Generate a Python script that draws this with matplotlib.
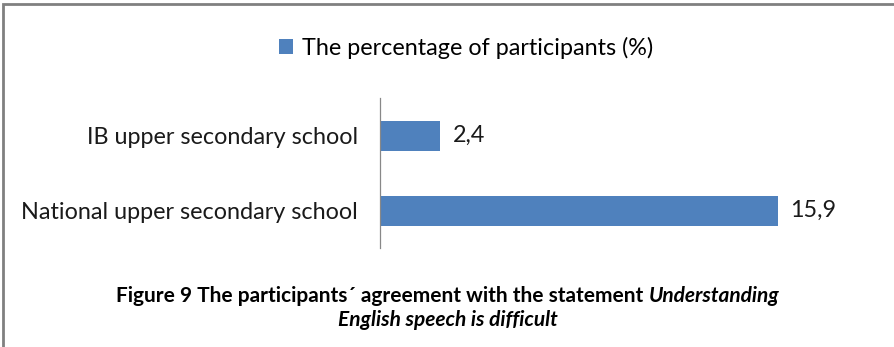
import matplotlib
matplotlib.use("Agg")
import matplotlib.pyplot as plt
from matplotlib.patches import Rectangle

schools = ["National upper secondary school", "IB upper secondary school"]
percent = [15.9, 2.4]
value_labels = ["15,9", "2,4"]
series_name = "The percentage of participants (%)"

plt.rcParams['font.family'] = ['Lato', 'DejaVu Sans']

fig = plt.figure(figsize=(8.95, 3.47), dpi=100)
ax = fig.add_axes([380/895, (347-248)/347, 500/895, 150/347])

bars = ax.barh(range(len(schools)), percent, height=0.4, color='#4F81BD',
               label=series_name)
ax.set_xlim(0, 20)
ax.set_ylim(-0.5, 1.5)
ax.set_yticks(range(len(schools)))
ax.set_yticklabels(schools, fontsize=16.8, color='#1a1a1a')
ax.tick_params(axis='y', length=0, pad=16)
ax.set_xticks([])
for side in ['top', 'right', 'bottom']:
    ax.spines[side].set_visible(False)
ax.spines['left'].set_color('#888888')
ax.spines['left'].set_linewidth(0.9)

for b, lab in zip(bars, value_labels):
    ax.text(b.get_width() + 0.5, b.get_y() + b.get_height() / 2, lab,
            va='center', ha='left', fontsize=16.8, color='#1a1a1a')

fig.legend(handles=[bars], labels=[series_name], loc='center',
           bbox_to_anchor=(466/895, 1 - 48/347), frameon=False,
           fontsize=16.8, handlelength=0.6, handleheight=0.6,
           handletextpad=0.4)

# caption, bold with italic statement
fig.canvas.draw()
r = fig.canvas.get_renderer()
y1 = 1 - 296/347
t1 = fig.text(0, y1, "Figure 9 The participants\u00b4 agreement with the statement ",
              fontsize=15, fontweight='bold', va='center', ha='left')
t2 = fig.text(0, y1, "Understanding", fontsize=15, fontweight='bold',
              style='italic', va='center', ha='left')
w1 = t1.get_window_extent(r).width
w2 = t2.get_window_extent(r).width
x0 = (fig.bbox.width - w1 - w2) / 2
t1.set_x(x0 / fig.bbox.width)
t2.set_x((x0 + w1) / fig.bbox.width)
fig.text(0.5, 1 - 320/347, "English speech is difficult", fontsize=15,
         fontweight='bold', style='italic', va='center', ha='center')

fig.patches.append(Rectangle((3/895, -0.05), 1.0, 0.05 + 1 - 4/347,
                             transform=fig.transFigure, fill=False,
                             edgecolor='#808080', linewidth=2))

fig.savefig("out.png", dpi=100)
